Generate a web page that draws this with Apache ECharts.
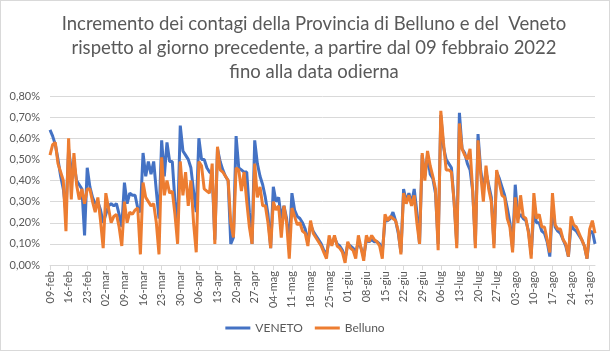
<!DOCTYPE html>
<html>
<head>
<meta charset="utf-8">
<script src="https://cdn.jsdelivr.net/npm/echarts@6/dist/echarts.min.js"></script>
<style>
  html, body { margin: 0; padding: 0; background: #fff; }
  #chart { width: 610px; height: 351px; box-sizing: border-box; border: 1px solid #d9d9d9; }
</style>
</head>
<body>
<div id="chart"></div>
<script>
// mesi in italiano per le etichette delle date
const mesi = ['gen', 'feb', 'mar', 'apr', 'mag', 'giu', 'lug', 'ago', 'set', 'ott', 'nov', 'dic'];

// incremento giornaliero (%) - VENETO, dal 09-feb
const veneto = [
    0.64, 0.61, 0.57, 0.50, 0.42, 0.36, 0.25,
    0.55, 0.45, 0.48, 0.40, 0.38, 0.36, 0.14,
    0.46, 0.37, 0.32, 0.29, 0.30, 0.26, 0.20,
    0.24, 0.28, 0.29, 0.28, 0.29, 0.24, 0.18,
    0.39, 0.29, 0.34, 0.33, 0.33, 0.27, 0.25,
    0.53, 0.42, 0.49, 0.43, 0.49, 0.35, 0.22,
    0.59, 0.42, 0.58, 0.49, 0.49, 0.30, 0.20,
    0.66, 0.54, 0.52, 0.50, 0.46, 0.35, 0.25,
    0.60, 0.50, 0.50, 0.46, 0.44, 0.43, 0.12,
    0.55, 0.49, 0.45, 0.42, 0.40, 0.10, 0.13,
    0.61, 0.46, 0.45, 0.44, 0.44, 0.25, 0.10,
    0.59, 0.48, 0.42, 0.38, 0.32, 0.24, 0.08,
    0.37, 0.30, 0.32, 0.22, 0.28, 0.22, 0.10,
    0.34, 0.26, 0.23, 0.22, 0.20, 0.17, 0.11,
    0.19, 0.16, 0.14, 0.12, 0.10, 0.07, 0.05,
    0.12, 0.10, 0.13, 0.10, 0.09, 0.07, 0.03,
    0.10, 0.09, 0.08, 0.06, 0.11, 0.08, 0.04,
    0.12, 0.11, 0.12, 0.11, 0.11, 0.10, 0.06,
    0.21, 0.21, 0.22, 0.25, 0.21, 0.15, 0.06,
    0.36, 0.30, 0.34, 0.29, 0.36, 0.25, 0.10,
    0.52, 0.42, 0.52, 0.43, 0.41, 0.34, 0.10,
    0.71, 0.56, 0.50, 0.48, 0.46, 0.30, 0.10,
    0.72, 0.55, 0.53, 0.48, 0.45, 0.35, 0.10,
    0.62, 0.45, 0.36, 0.44, 0.38, 0.32, 0.10,
    0.44, 0.41, 0.37, 0.33, 0.27, 0.20, 0.08,
    0.38, 0.22, 0.24, 0.22, 0.21, 0.16, 0.05,
    0.26, 0.20, 0.20, 0.16, 0.15, 0.11, 0.04,
    0.28, 0.18, 0.16, 0.15, 0.12, 0.09, 0.04,
    0.19, 0.17, 0.16, 0.14, 0.12, 0.09, 0.03,
    0.15, 0.16, 0.10
];

// incremento giornaliero (%) - Provincia di Belluno
const belluno = [
    0.52, 0.57, 0.58, 0.48, 0.44, 0.40, 0.16,
    0.60, 0.31, 0.53, 0.38, 0.31, 0.36, 0.29,
    0.36, 0.36, 0.30, 0.25, 0.32, 0.21, 0.08,
    0.34, 0.27, 0.20, 0.23, 0.24, 0.18, 0.09,
    0.30, 0.20, 0.25, 0.24, 0.26, 0.27, 0.05,
    0.39, 0.32, 0.30, 0.28, 0.29, 0.20, 0.05,
    0.51, 0.33, 0.40, 0.34, 0.35, 0.24, 0.10,
    0.49, 0.33, 0.44, 0.28, 0.40, 0.20, 0.06,
    0.49, 0.47, 0.36, 0.35, 0.34, 0.48, 0.10,
    0.56, 0.45, 0.44, 0.42, 0.40, 0.20, 0.13,
    0.46, 0.45, 0.35, 0.44, 0.30, 0.18, 0.10,
    0.48, 0.32, 0.37, 0.28, 0.28, 0.20, 0.08,
    0.30, 0.26, 0.28, 0.13, 0.28, 0.20, 0.03,
    0.27, 0.23, 0.19, 0.20, 0.16, 0.15, 0.09,
    0.21, 0.15, 0.13, 0.11, 0.09, 0.06, 0.03,
    0.14, 0.09, 0.14, 0.09, 0.08, 0.06, 0.01,
    0.11, 0.08, 0.07, 0.03, 0.14, 0.08, 0.02,
    0.14, 0.11, 0.14, 0.12, 0.11, 0.09, 0.03,
    0.24, 0.21, 0.23, 0.22, 0.21, 0.16, 0.05,
    0.34, 0.29, 0.33, 0.28, 0.33, 0.20, 0.10,
    0.53, 0.40, 0.54, 0.47, 0.42, 0.36, 0.07,
    0.73, 0.58, 0.45, 0.45, 0.44, 0.30, 0.08,
    0.67, 0.55, 0.52, 0.50, 0.55, 0.35, 0.08,
    0.59, 0.43, 0.30, 0.47, 0.36, 0.30, 0.08,
    0.45, 0.39, 0.33, 0.32, 0.22, 0.18, 0.06,
    0.32, 0.20, 0.33, 0.23, 0.22, 0.15, 0.03,
    0.34, 0.22, 0.24, 0.18, 0.18, 0.12, 0.06,
    0.34, 0.19, 0.17, 0.17, 0.12, 0.10, 0.04,
    0.23, 0.19, 0.18, 0.15, 0.12, 0.09, 0.03,
    0.17, 0.21, 0.15
];

// date giornaliere dal 09-feb-2022, formato "gg-mmm"
const giorni = [];
for (let i = 0; i < veneto.length; i++) {
    const d = new Date(2022, 1, 9 + i);
    giorni.push(String(d.getDate()).padStart(2, '0') + '-' + mesi[d.getMonth()]);
}

const titolo = 'Incremento dei contagi della Provincia di Belluno e del  Veneto\n' +
    'rispetto al giorno precedente, a partire dal 09 febbraio 2022\n' +
    'fino alla data odierna';

const grigio = '#595959';
const font = 'Lato, "Liberation Sans", sans-serif';

const myChart = echarts.init(document.getElementById('chart'));

const option = {
    animation: false,
    textStyle: { fontFamily: font },
    title: {
        text: titolo,
        left: 308,
        top: 6,
        textAlign: 'center',
        textStyle: {
            fontFamily: font,
            fontSize: 18.5,
            fontWeight: 'normal',
            color: grigio,
            lineHeight: 24
        }
    },
    legend: {
        bottom: 11,
        left: 'center',
        icon: 'rect',
        itemWidth: 25,
        itemHeight: 3,
        itemGap: 12,
        textStyle: { fontFamily: font, fontSize: 12, color: grigio },
        data: ['VENETO', 'Belluno']
    },
    grid: {
        left: 49,
        right: 14,
        top: 95,
        bottom: 85
    },
    xAxis: {
        type: 'category',
        data: giorni,
        boundaryGap: false,
        axisLine: { lineStyle: { color: '#d9d9d9' } },
        axisTick: { interval: 6, length: 5, lineStyle: { color: '#d9d9d9' } },
        axisLabel: {
            interval: 6,
            rotate: 90,
            fontSize: 11,
            color: grigio,
            margin: 6
        }
    },
    yAxis: {
        type: 'value',
        min: 0,
        max: 0.8,
        interval: 0.1,
        axisLine: { show: false },
        axisTick: { show: false },
        splitLine: { lineStyle: { color: '#d9d9d9' } },
        axisLabel: {
            fontSize: 11,
            color: grigio,
            margin: 10,
            formatter: function (v) {
                return v.toFixed(2).replace('.', ',') + '%';
            }
        }
    },
    series: [
        {
            name: 'VENETO',
            type: 'line',
            data: veneto,
            symbol: 'none',
            lineStyle: { color: '#4472C4', width: 3 },
            itemStyle: { color: '#4472C4' }
        },
        {
            name: 'Belluno',
            type: 'line',
            data: belluno,
            symbol: 'none',
            lineStyle: { color: '#ED7D31', width: 3 },
            itemStyle: { color: '#ED7D31' }
        }
    ]
};

myChart.setOption(option);
</script>
</body>
</html>
